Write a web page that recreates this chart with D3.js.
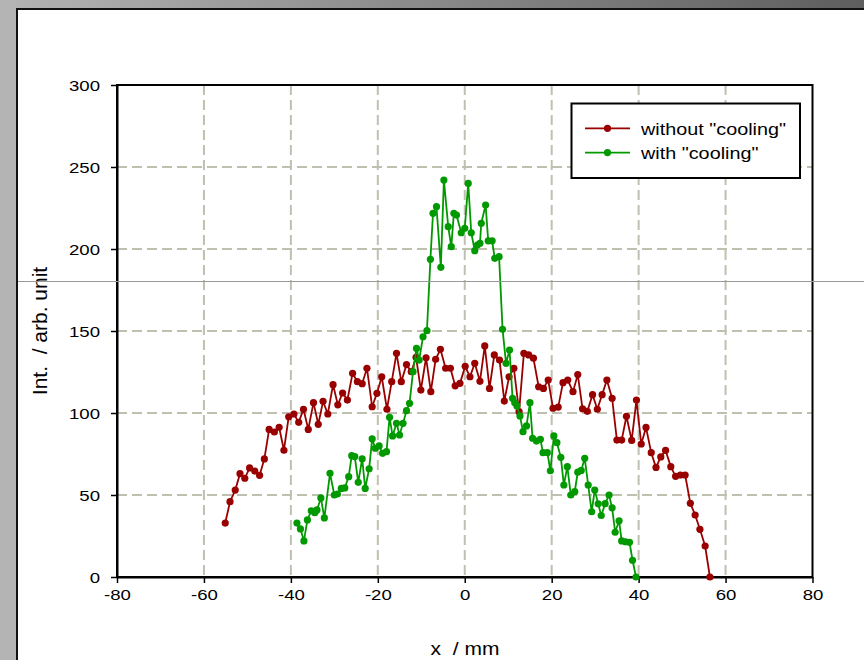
<!DOCTYPE html>
<html>
<head>
<meta charset="utf-8">
<script src="https://cdn.jsdelivr.net/npm/d3@7"></script>
<style>
  body { margin: 0; background: #fff; }
  svg { display: block; }
  text { font-family: "Liberation Sans", Arial, sans-serif; fill: #000; }
</style>
</head>
<body>
<svg id="chart" width="864" height="660"></svg>
<script>
// Axis ticks
const xTicks = [-80, -60, -40, -20, 0, 20, 40, 60, 80];
const yTicks = [0, 50, 100, 150, 200, 250, 300];

// Series labels
const seriesNames = ['without "cooling"', 'with "cooling"'];

// Profile without cooling: position (mm) and intensity (arb. unit)
const xWithout = [-55.1, -54.0, -52.8, -51.7, -50.6, -49.5, -48.3, -47.2, -46.1, -45.0,
  -43.8, -42.7, -41.6, -40.5, -39.3, -38.2, -37.1, -36.0, -34.8, -33.7,
  -32.6, -31.5, -30.3, -29.2, -28.1, -27.0, -25.8, -24.7, -23.6, -22.5,
  -21.3, -20.2, -19.1, -17.9, -16.8, -15.7, -14.6, -13.4, -12.3, -11.2,
  -10.1, -8.9, -7.8, -6.7, -5.6, -4.4, -3.3, -2.2, -1.1, 0.1,
  1.2, 2.3, 3.5, 4.6, 5.7, 6.8, 8.0, 9.1, 10.2, 11.3,
  12.5, 13.6, 14.7, 15.8, 17.0, 18.1, 19.2, 20.3, 21.5, 22.6,
  23.7, 24.9, 26.0, 27.1, 28.2, 29.4, 30.5, 31.6, 32.7, 33.9,
  35.0, 36.1, 37.2, 38.4, 39.5, 40.6, 41.7, 42.9, 44.0, 45.1,
  46.2, 47.4, 48.5, 49.6, 50.7, 51.9, 53.0, 54.1, 55.3, 56.4];
const yWithout = [32.9, 45.9, 53.0, 63.0, 60.2, 66.5, 64.6, 62.0, 72.0, 90.0,
  88.4, 91.3, 77.3, 97.7, 99.4, 94.3, 102.3, 90.0, 106.3, 93.1,
  107.1, 99.4, 117.3, 105.0, 112.2, 107.9, 124.2, 119.1, 117.9, 127.3,
  103.8, 112.0, 122.1, 102.3, 119.1, 136.4, 119.1, 129.5, 125.2, 134.0,
  114.0, 133.7, 113.0, 132.7, 138.8, 127.3, 127.3, 116.6, 118.1, 128.5,
  122.1, 130.3, 119.3, 140.9, 115.0, 135.4, 132.3, 107.3, 122.1, 127.3,
  100.8, 136.4, 135.4, 133.4, 116.0, 115.0, 120.1, 102.9, 103.6, 118.5,
  120.1, 113.0, 123.4, 102.6, 101.0, 111.2, 102.3, 111.2, 120.1, 109.0,
  83.5, 83.5, 98.0, 83.3, 107.9, 81.1, 91.2, 75.8, 66.8, 73.2,
  77.2, 67.3, 61.4, 62.2, 62.2, 44.9, 37.8, 29.1, 18.9, 0.0];

// Profile with cooling
const xWith = [-38.6, -37.8, -37.0, -36.2, -35.3, -34.5, -34.0, -33.1, -32.3, -31.0,
  -30.0, -29.3, -28.4, -27.6, -26.7, -26.0, -25.3, -24.5, -23.6, -22.9,
  -22.0, -21.3, -20.6, -19.7, -18.9, -18.0, -17.3, -16.6, -15.7, -15.0,
  -14.2, -13.4, -12.7, -11.9, -11.1, -10.5, -9.6, -8.7, -7.9, -7.3,
  -6.5, -5.5, -4.8, -3.8, -3.1, -2.5, -1.9, -0.8, 0.0, 0.8,
  1.5, 2.3, 2.9, 3.5, 3.8, 4.8, 5.4, 6.3, 6.9, 7.9,
  8.7, 9.5, 10.3, 11.0, 11.5, 12.0, 12.7, 13.4, 14.2, 15.0,
  15.6, 16.5, 17.4, 18.0, 19.0, 19.7, 20.5, 21.2, 22.1, 22.8,
  23.6, 24.4, 25.3, 26.0, 26.8, 27.6, 28.4, 29.2, 29.9, 30.7,
  31.4, 32.3, 33.2, 33.9, 34.6, 35.5, 36.1, 37.0, 37.9, 38.6, 39.4];
const yWith = [32.9, 29.3, 22.0, 34.8, 40.4, 39.2, 40.9, 48.2, 36.0, 63.2,
  50.0, 50.6, 54.0, 54.3, 61.2, 74.0, 73.4, 57.7, 72.1, 54.0,
  66.0, 84.3, 78.5, 79.9, 75.4, 76.4, 97.4, 86.0, 93.7, 86.6,
  93.7, 101.4, 105.9, 125.2, 139.4, 132.3, 146.5, 150.2, 193.7, 221.8,
  225.8, 188.8, 242.0, 213.6, 201.4, 221.8, 220.7, 209.9, 212.6, 240.0,
  209.9, 199.0, 202.4, 203.5, 215.7, 226.8, 205.0, 205.0, 194.3, 195.3,
  151.0, 130.3, 138.4, 109.0, 106.3, 104.3, 98.2, 88.6, 92.1, 106.3,
  84.6, 82.9, 84.0, 75.8, 75.8, 64.8, 86.0, 81.9, 73.0, 56.1,
  67.3, 50.0, 52.0, 63.9, 65.0, 72.4, 56.1, 39.8, 53.0, 44.6,
  37.5, 44.7, 50.0, 42.2, 27.3, 34.3, 22.0, 21.5, 21.2, 10.2, 0.0];

const series = [
  { name: seriesNames[0], xs: xWithout, ys: yWithout, color: "#990000" },
  { name: seriesNames[1], xs: xWith, ys: yWith, color: "#009900" }
];

const W = 864, H = 660;
const plot = { left: 117, right: 812.5, top: 85, bottom: 577 };
const STRETCH = 1.2;   // horizontally widened lettering

const svg = d3.select("#chart");

// Window chrome: grey side strip, shaded title strip, dark inner edges
const defs = svg.append("defs");
const grad = defs.append("linearGradient").attr("id", "topbar").attr("x1", 0).attr("x2", 1).attr("y1", 0).attr("y2", 0);
grad.append("stop").attr("offset", 0).attr("stop-color", "#b4b4b4");
grad.append("stop").attr("offset", 1).attr("stop-color", "#5e5e5e");

svg.append("rect").attr("width", W).attr("height", H).attr("fill", "#fff");
svg.append("rect").attr("x", 0).attr("y", 0).attr("width", W).attr("height", 8).attr("fill", "url(#topbar)");
svg.append("rect").attr("x", 0).attr("y", 0).attr("width", 16).attr("height", H).attr("fill", "#b4b4b4");
svg.append("rect").attr("x", 16).attr("y", 8).attr("width", W - 16).attr("height", 2).attr("fill", "#111");
svg.append("rect").attr("x", 16).attr("y", 8).attr("width", 2).attr("height", H - 8).attr("fill", "#111");

const x = d3.scaleLinear().domain([-80, 80]).range([plot.left, plot.right]);
const y = d3.scaleLinear().domain([0, 300]).range([plot.bottom, plot.top]);

// Dashed grid
const grid = svg.append("g").attr("stroke", "#c0c0b0").attr("stroke-width", 2).attr("stroke-dasharray", "10,5");
grid.selectAll("line.v").data(xTicks.slice(1, -1)).join("line")
  .attr("x1", d => x(d)).attr("x2", d => x(d))
  .attr("y1", plot.top).attr("y2", plot.bottom);
grid.selectAll("line.h").data(yTicks.slice(1, -1)).join("line")
  .attr("x1", plot.left).attr("x2", plot.right)
  .attr("y1", d => y(d)).attr("y2", d => y(d));

// Plot frame
svg.append("rect").attr("x", plot.left).attr("y", plot.top)
  .attr("width", plot.right - plot.left).attr("height", plot.bottom - plot.top)
  .attr("fill", "none").attr("stroke", "#000").attr("stroke-width", 2);

// Axes (plain hyphen for negative labels)
const plainFmt = d => String(d);
const yAxis = svg.append("g").attr("transform", `translate(${plot.left},0)`)
  .call(d3.axisLeft(y).tickValues(yTicks).tickFormat(plainFmt).tickSize(6).tickSizeOuter(0));
const xAxis = svg.append("g").attr("transform", `translate(0,${plot.bottom})`)
  .call(d3.axisBottom(x).tickValues(xTicks).tickFormat(plainFmt).tickSize(6).tickSizeOuter(0));
[xAxis, yAxis].forEach(a => {
  a.select(".domain").attr("stroke", "#000").attr("stroke-width", 2);
  a.selectAll(".tick line").attr("stroke", "#000").attr("stroke-width", 1.5);
  a.selectAll(".tick text").attr("font-size", 15.5).attr("fill", "#000")
    .style("font-family", '"Liberation Sans", Arial, sans-serif');
});
yAxis.selectAll(".tick text").attr("x", -17 / STRETCH).attr("dy", "0.36em")
  .attr("transform", `scale(${STRETCH},1)`);
xAxis.selectAll(".tick text").attr("y", 23).attr("dy", 0)
  .attr("transform", `scale(${STRETCH},1)`);

// Data lines and markers
series.forEach(s => {
  const pts = s.xs.map((v, i) => [v, s.ys[i]]);
  const g = svg.append("g");
  g.append("path").datum(pts)
    .attr("d", d3.line().x(d => x(d[0])).y(d => y(d[1])))
    .attr("fill", "none").attr("stroke", s.color).attr("stroke-width", 1.8);
  g.selectAll("circle").data(pts).join("circle")
    .attr("cx", d => x(d[0])).attr("cy", d => y(d[1])).attr("r", 3.6)
    .attr("fill", s.color);
});

// Axis titles
svg.append("text").attr("transform", `translate(465,655) scale(${STRETCH},1)`)
  .attr("text-anchor", "middle").attr("font-size", 17.5)
  .style("white-space", "pre").text("x  / mm");
svg.append("text").attr("transform", `translate(47,331) rotate(-90)`)
  .attr("text-anchor", "middle").attr("font-size", 21)
  .style("white-space", "pre").text("Int.  / arb. unit");

// Legend
const lg = svg.append("g");
lg.append("rect").attr("x", 571.5).attr("y", 103.5).attr("width", 228.5).attr("height", 74.5)
  .attr("fill", "#fff").attr("stroke", "#000").attr("stroke-width", 2);
series.forEach((s, i) => {
  const cy = 128.3 + i * 24.3;
  lg.append("line").attr("x1", 585).attr("x2", 630).attr("y1", cy).attr("y2", cy)
    .attr("stroke", s.color).attr("stroke-width", 1.8);
  lg.append("circle").attr("cx", 607.5).attr("cy", cy).attr("r", 3.6).attr("fill", s.color);
  lg.append("text").attr("transform", `translate(641,${cy + 6.3}) scale(${STRETCH},1)`)
    .attr("font-size", 16.5).text(s.name);
});

// Thin grey scan line across the window
svg.append("line").attr("x1", 18).attr("x2", W).attr("y1", 281.5).attr("y2", 281.5)
  .attr("stroke", "#9a9a9a").attr("stroke-width", 1);
</script>
</body>
</html>
